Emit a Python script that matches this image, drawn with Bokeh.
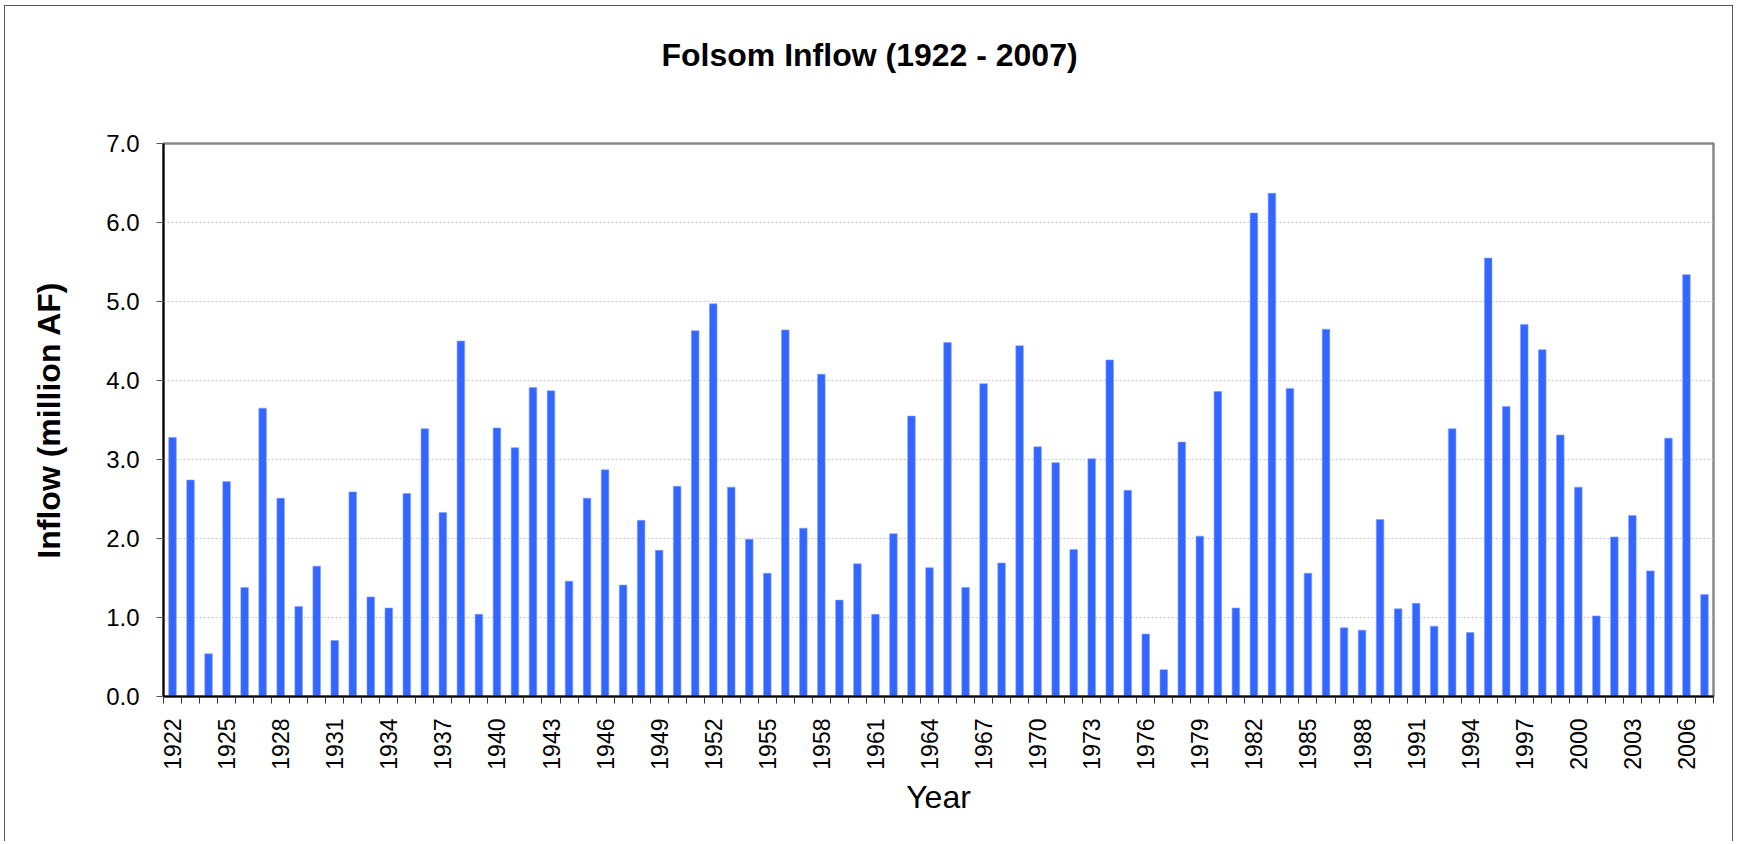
from bokeh.plotting import figure
from bokeh.models import Range1d, FixedTicker, NumeralTickFormatter, ColumnDataSource, Title
from bokeh.embed import file_html
from bokeh.resources import INLINE
import math

# ---- data ----
years = list(range(1922, 2008))
inflow = [
    3.28, 2.74, 0.54, 2.72, 1.38, 3.65, 2.51, 1.14, 1.65, 0.71,   # 1922-1931
    2.59, 1.26, 1.12, 2.57, 3.39, 2.33, 4.50, 1.04, 3.40, 3.15,   # 1932-1941
    3.91, 3.87, 1.46, 2.51, 2.87, 1.41, 2.23, 1.85, 2.66, 4.63,   # 1942-1951
    4.97, 2.65, 1.99, 1.56, 4.64, 2.13, 4.08, 1.22, 1.68, 1.04,   # 1952-1961
    2.06, 3.55, 1.63, 4.48, 1.38, 3.96, 1.69, 4.44, 3.16, 2.96,   # 1962-1971
    1.86, 3.01, 4.26, 2.61, 0.79, 0.34, 3.22, 2.03, 3.86, 1.12,   # 1972-1981
    6.12, 6.37, 3.90, 1.56, 4.65, 0.87, 0.84, 2.24, 1.11, 1.18,   # 1982-1991
    0.89, 3.39, 0.81, 5.55, 3.67, 4.71, 4.39, 3.31, 2.65, 1.02,   # 1992-2001
    2.02, 2.29, 1.59, 3.27, 5.34, 1.29,                           # 2002-2007
]
tick_years = years[::3]
y_ticks = [0, 1, 2, 3, 4, 5, 6, 7]

title_text = "Folsom Inflow (1922 - 2007)"
x_label = "Year"
y_label = "Inflow (million AF)"

src = ColumnDataSource(dict(year=years, inflow=inflow))

p = figure(
    width=1729, height=836, title=None,
    output_backend="svg", toolbar_location=None,
    x_range=Range1d(years[0] - 0.5, years[-1] + 0.5),
    y_range=Range1d(0, 7),
    min_border_left=158, min_border_right=21,
    min_border_top=137, min_border_bottom=146,
    background_fill_color="white", border_fill_color="white",
)
p.styles = {
    "border-top": "1px solid #555555",
    "border-left": "1px solid #555555",
    "border-right": "1px solid #555555",
    "margin-left": "4px",
    "margin-top": "5px",
}

p.vbar(x="year", top="inflow", width=0.42, source=src,
       fill_color="#3366FF", line_color="#7f9dff", line_width=0.6)

# spacer between frame and title, then the title itself
spacer = Title(text=" ", text_font_size="1px", standoff=68)
p.add_layout(spacer, "above")
main_title = Title(text=title_text, text_font="Liberation Sans",
                   text_font_size="32px", text_font_style="bold",
                   text_color="black", align="left", offset=498,
                   vertical_align="bottom", standoff=0)
p.add_layout(main_title, "above")

# outline
p.outline_line_color = "#888888"
p.outline_line_width = 2.5

# grids
p.xgrid.grid_line_color = None
p.ygrid.grid_line_color = "#c8c8c8"
p.ygrid.grid_line_dash = "2 2"
p.ygrid.grid_line_width = 1
p.ygrid.ticker = FixedTicker(ticks=y_ticks)

# x axis
xa = p.xaxis[0]
xa.ticker = FixedTicker(ticks=tick_years,
                        minor_ticks=[y - 0.5 for y in years] + [years[-1] + 0.5])
xa.major_tick_line_color = None
xa.major_tick_out = 7
xa.minor_tick_out = 7
xa.minor_tick_in = 0
xa.minor_tick_line_color = "#333333"
xa.minor_tick_line_width = 1
xa.major_label_orientation = math.pi / 2
xa.major_label_standoff = 15
xa.major_label_text_font = "Liberation Sans"
xa.major_label_text_font_size = "23px"
xa.major_label_text_color = "black"
xa.axis_line_color = "black"
xa.axis_line_width = 2
xa.axis_label = x_label
xa.axis_label_text_font = "Liberation Sans"
xa.axis_label_text_font_size = "32px"
xa.axis_label_text_font_style = "normal"
xa.axis_label_text_color = "black"
xa.axis_label_standoff = 6

# y axis
ya = p.yaxis[0]
ya.ticker = FixedTicker(ticks=y_ticks)
ya.formatter = NumeralTickFormatter(format="0.0")
ya.major_tick_out = 7
ya.major_tick_in = 0
ya.major_tick_line_color = "#555555"
ya.minor_tick_line_color = None
ya.major_label_standoff = 17
ya.major_label_text_font = "Liberation Sans"
ya.major_label_text_font_size = "24px"
ya.major_label_text_color = "black"
ya.axis_line_color = "black"
ya.axis_line_width = 2
ya.axis_label = y_label
ya.axis_label_text_font = "Liberation Sans"
ya.axis_label_text_font_size = "32px"
ya.axis_label_text_font_style = "bold"
ya.axis_label_text_color = "black"
ya.axis_label_standoff = 36

open("out.html", "w").write(file_html(p, INLINE))
